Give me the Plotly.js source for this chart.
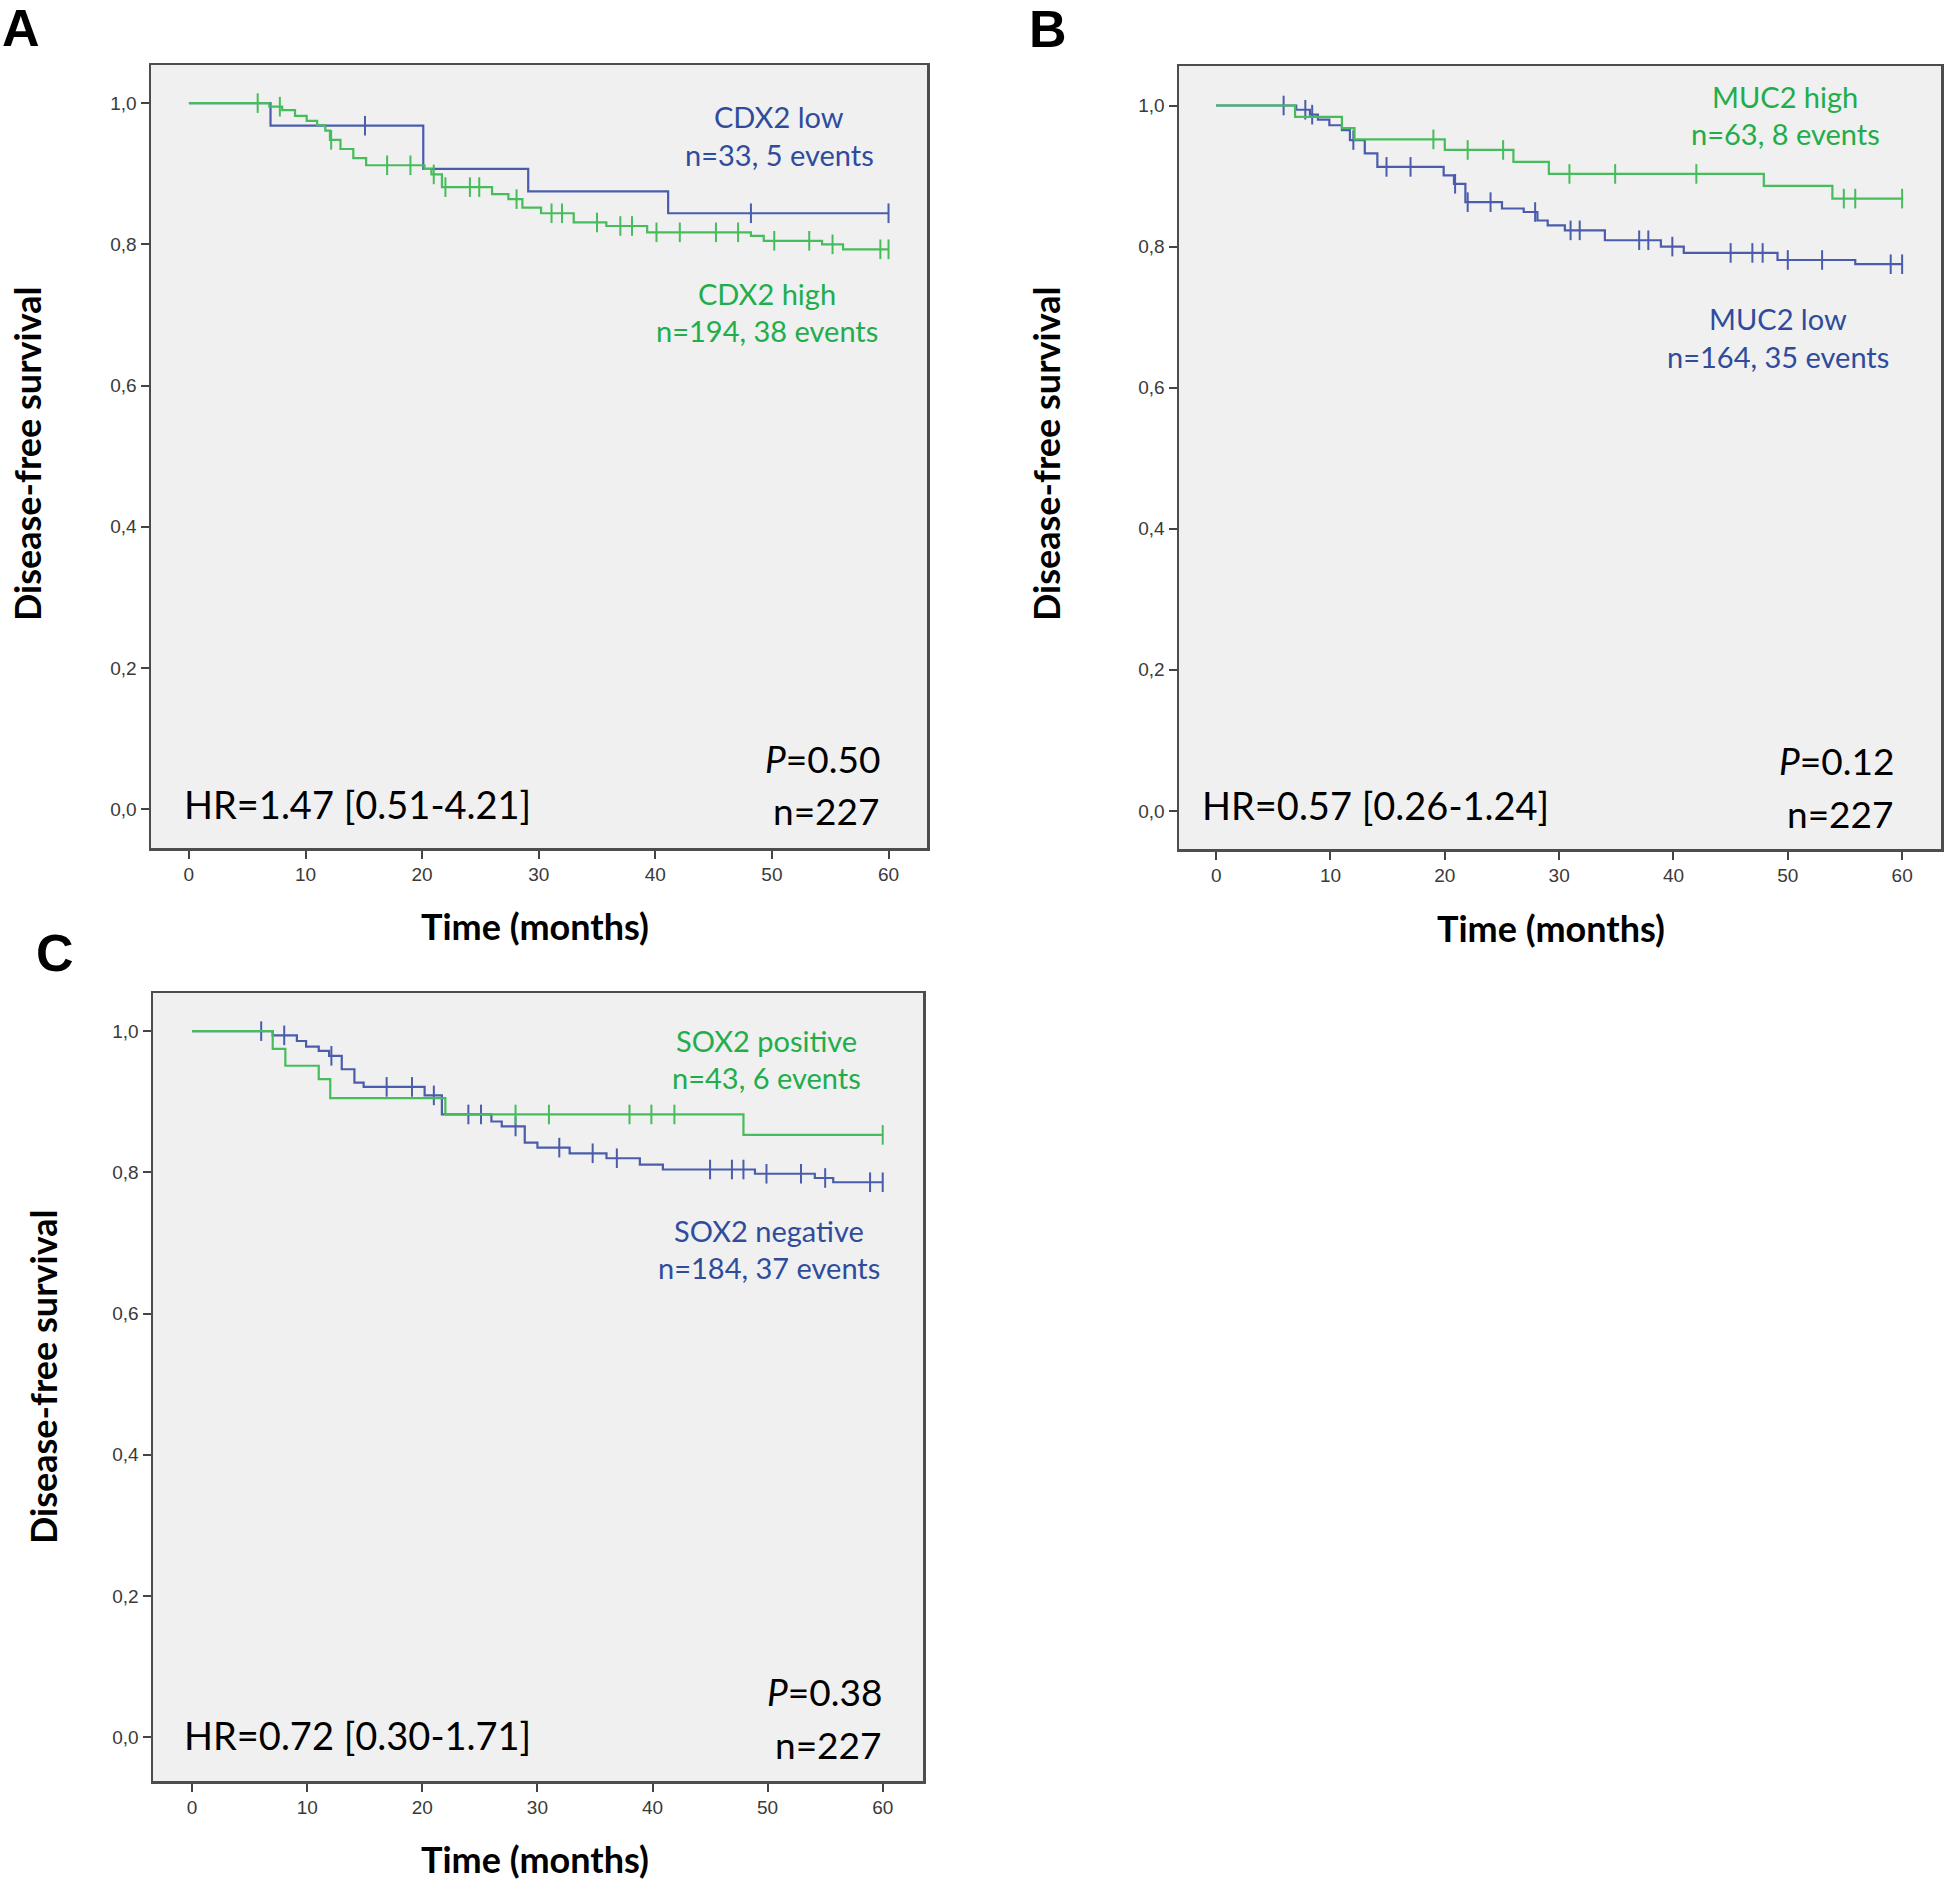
<!DOCTYPE html>
<html>
<head>
<meta charset="utf-8">
<script src="https://cdn.plot.ly/plotly-3.0.1.min.js"></script>
<style>
  body { margin: 0; background: #fff; }
  #chart { width: 1946px; height: 1881px; }
</style>
</head>
<body>
<div id="chart"></div>
<script>
// ---- data (months, survival) ----
const yTickVals = [0, 0.2, 0.4, 0.6, 0.8, 1.0];
const yTickText = ['0,0', '0,2', '0,4', '0,6', '0,8', '1,0'];
const xTickVals = [0, 10, 20, 30, 40, 50, 60];

// A: CDX2
const cdx2LowTime = [0, 7.0, 20.1, 29.1, 41.1, 60];
const cdx2LowSurv = [1.0, 0.968, 0.907, 0.875, 0.844, 0.844];
const cdx2LowCens = [15.1, 48.2, 60];

const cdx2HighTime = [0, 6.9, 8.0, 9.1, 10.1, 11.0, 11.7, 12.1, 13.0, 14.1, 15.2, 20.2, 20.8, 21.7, 26.0, 27.4, 28.6, 30.2, 33.0, 35.8, 39.3, 48.2, 49.3, 54.3, 56.1, 60];
const cdx2HighSurv = [1.0, 0.995, 0.990, 0.982, 0.975, 0.969, 0.961, 0.948, 0.935, 0.922, 0.912, 0.907, 0.899, 0.881, 0.871, 0.864, 0.852, 0.844, 0.831, 0.826, 0.817, 0.812, 0.805, 0.800, 0.793, 0.793];
const cdx2HighCens = [5.9, 7.8, 12.2, 17.0, 19.0, 21.0, 22.0, 24.1, 24.9, 28.1, 31.1, 32.0, 35.0, 37.0, 38.0, 40.1, 42.1, 45.2, 47.1, 50.2, 53.2, 55.2, 59.3, 60];

// B: MUC2
const muc2HighTime = [0, 6.9, 11.0, 12.1, 20.0, 26.0, 29.1, 47.9, 53.9, 60];
const muc2HighSurv = [1.0, 0.984, 0.968, 0.952, 0.937, 0.920, 0.903, 0.886, 0.868, 0.868];
const muc2HighCens = [19.0, 22.0, 25.1, 30.9, 34.9, 42.0, 54.9, 55.9, 60];

const muc2LowTime = [0, 7.0, 8.2, 8.9, 9.9, 11.0, 11.7, 13.0, 14.1, 19.9, 20.8, 21.8, 25.0, 26.9, 28.1, 29.0, 30.5, 34.0, 38.9, 40.9, 49.1, 55.9, 60];
const muc2LowSurv = [1.0, 0.994, 0.987, 0.980, 0.972, 0.965, 0.951, 0.932, 0.913, 0.901, 0.889, 0.863, 0.854, 0.849, 0.837, 0.830, 0.823, 0.809, 0.800, 0.791, 0.781, 0.775, 0.775];
const muc2LowCens = [5.9, 7.8, 8.4, 12.0, 14.9, 17.0, 20.9, 22.0, 24.0, 27.9, 31.0, 31.8, 37.0, 37.8, 39.9, 45.0, 46.9, 47.8, 50.0, 53.0, 59.0, 60];

// C: SOX2
const sox2PosTime = [0, 7.0, 8.1, 11.0, 12.0, 22.0, 47.9, 60];
const sox2PosSurv = [1.0, 0.975, 0.951, 0.932, 0.905, 0.882, 0.853, 0.853];
const sox2PosCens = [28.1, 31.0, 38.0, 39.9, 41.9, 60];

const sox2NegTime = [0, 7.0, 9.1, 9.9, 11.0, 11.9, 13.0, 14.1, 14.9, 20.2, 21.7, 26.0, 26.9, 28.9, 30.0, 32.8, 36.0, 38.9, 40.9, 48.9, 54.1, 55.7, 60];
const sox2NegSurv = [1.0, 0.994, 0.986, 0.978, 0.972, 0.965, 0.946, 0.927, 0.921, 0.909, 0.882, 0.872, 0.865, 0.842, 0.835, 0.827, 0.820, 0.811, 0.804, 0.798, 0.792, 0.786, 0.786];
const sox2NegCens = [6.0, 8.0, 12.1, 16.9, 19.1, 21.0, 24.0, 25.1, 28.1, 31.9, 34.8, 36.9, 45.0, 46.9, 47.9, 49.9, 52.9, 55.0, 58.9, 60];

// ---- styles ----
const BLUE_LINE = '#4a5cab';
const GREEN_LINE = '#45bd5a';
const BLUE_TEXT = '#2f4c9c';
const GREEN_TEXT = '#22ad4b';
const LABEL_FONT = 'Lato, "Open Sans", "Noto Sans", sans-serif';
const TICK_FONT = { family: 'Liberation Sans, Arial, sans-serif', size: 19, color: '#3a3a3a' };
const W = 1946, H = 1881;

// survival value at time t (step function)
function survAt(times, surv, t) {
    let s = surv[0];
    for (let i = 0; i < times.length; i++) {
        if (times[i] <= t) s = surv[i];
    }
    return s;
}

function kmTraces(times, surv, cens, color, axis) {
    const xa = 'x' + (axis === 1 ? '' : axis);
    const ya = 'y' + (axis === 1 ? '' : axis);
    const curve = {
        x: times, y: surv, xaxis: xa, yaxis: ya,
        type: 'scatter', mode: 'lines',
        line: { color: color, width: 2.2, shape: 'hv' },
        hoverinfo: 'skip'
    };
    // censored cases as short vertical ticks
    const marks = {
        x: cens, y: cens.map(t => survAt(times, surv, t)), xaxis: xa, yaxis: ya,
        type: 'scatter', mode: 'markers',
        marker: { symbol: 'line-ns-open', size: 14, color: color, line: { color: color, width: 2 } },
        hoverinfo: 'skip'
    };
    return [curve, marks];
}

const traces = [
    ...kmTraces(cdx2LowTime, cdx2LowSurv, cdx2LowCens, BLUE_LINE, 1),
    ...kmTraces(cdx2HighTime, cdx2HighSurv, cdx2HighCens, GREEN_LINE, 1),
    ...kmTraces(muc2LowTime, muc2LowSurv, muc2LowCens, BLUE_LINE, 2),
    ...kmTraces(muc2HighTime, muc2HighSurv, muc2HighCens, GREEN_LINE, 2),
    ...kmTraces(sox2NegTime, sox2NegSurv, sox2NegCens, BLUE_LINE, 3),
    ...kmTraces(sox2PosTime, sox2PosSurv, sox2PosCens, GREEN_LINE, 3)
];

// panel boxes in page pixels: [left, top, right, bottom]
const boxA = [151, 65, 927, 848];
const boxB = [1179, 66, 1941, 849];
const boxC = [153, 993, 923, 1781];

function xAxis(box, anchor, range) {
    return {
        domain: [box[0] / W, box[2] / W],
        anchor: anchor,
        range: range,
        tickvals: xTickVals,
        ticks: 'outside', ticklen: 8, tickwidth: 2, tickcolor: '#444',
        tickfont: TICK_FONT,
        showgrid: false, zeroline: false,
        showline: true, mirror: true, linecolor: '#4d4d4d', linewidth: 2.5,
        fixedrange: true
    };
}

function yAxis(box, anchor, range) {
    return {
        domain: [1 - box[3] / H, 1 - box[1] / H],
        anchor: anchor,
        range: range,
        tickvals: yTickVals,
        ticktext: yTickText,
        ticks: 'outside', ticklen: 8, tickwidth: 2, tickcolor: '#444',
        tickfont: TICK_FONT,
        showgrid: false, zeroline: false,
        showline: true, mirror: true, linecolor: '#4d4d4d', linewidth: 2.5,
        fixedrange: true
    };
}

// text helper, page pixel positions
function txt(text, x, y, opts) {
    const o = opts || {};
    return {
        text: text, xref: 'paper', yref: 'paper',
        x: x / W, y: 1 - y / H,
        xanchor: o.xanchor || 'center', yanchor: o.yanchor || 'middle',
        showarrow: false, textangle: o.angle || 0,
        font: { family: o.family || LABEL_FONT, size: o.size || 29, color: o.color || '#000' }
    };
}

const BOLD = 'Lato, "Open Sans", sans-serif';
const LETTER = 'Liberation Sans, Arial, sans-serif';
const annotations = [
    // panel letters
    txt('<b>A</b>', 21, 28, { size: 52, family: LETTER }),
    txt('<b>B</b>', 1048, 29, { size: 52, family: LETTER }),
    txt('<b>C</b>', 55, 953, { size: 52, family: LETTER }),

    // axis titles
    txt('<b>Disease-free survival</b>', 27, 454, { angle: -90, size: 36, family: BOLD }),
    txt('<b>Disease-free survival</b>', 1046, 454, { angle: -90, size: 36, family: BOLD }),
    txt('<b>Disease-free survival</b>', 43, 1377, { angle: -90, size: 36, family: BOLD }),
    txt('<b>Time (months)</b>', 535, 926, { size: 36, family: BOLD }),
    txt('<b>Time (months)</b>', 1551, 928, { size: 36, family: BOLD }),
    txt('<b>Time (months)</b>', 535, 1859, { size: 36, family: BOLD }),

    // A labels
    txt('CDX2 low', 779, 117, { color: BLUE_TEXT }),
    txt('n=33, 5 events', 779, 154, { color: BLUE_TEXT }),
    txt('CDX2 high', 767, 293, { color: GREEN_TEXT }),
    txt('n=194, 38 events', 767, 330, { color: GREEN_TEXT }),
    txt('<i>P</i>=0.50', 882, 758, { xanchor: 'right', size: 37 }),
    txt('n=227', 882, 810, { xanchor: 'right', size: 37 }),
    txt('HR=1.47 [0.51-4.21]', 182, 804, { xanchor: 'left', size: 38 }),

    // B labels
    txt('MUC2 high', 1785, 96, { color: GREEN_TEXT }),
    txt('n=63, 8 events', 1785, 133, { color: GREEN_TEXT }),
    txt('MUC2 low', 1778, 319, { color: BLUE_TEXT }),
    txt('n=164, 35 events', 1778, 356, { color: BLUE_TEXT }),
    txt('<i>P</i>=0.12', 1896, 761, { xanchor: 'right', size: 37 }),
    txt('n=227', 1896, 813, { xanchor: 'right', size: 37 }),
    txt('HR=0.57 [0.26-1.24]', 1200, 805, { xanchor: 'left', size: 38 }),

    // C labels
    txt('SOX2 positive', 766, 1040, { color: GREEN_TEXT }),
    txt('n=43, 6 events', 766, 1077, { color: GREEN_TEXT }),
    txt('SOX2 negative', 769, 1230, { color: BLUE_TEXT }),
    txt('n=184, 37 events', 769, 1267, { color: BLUE_TEXT }),
    txt('<i>P</i>=0.38', 884, 1691, { xanchor: 'right', size: 37 }),
    txt('n=227', 884, 1744, { xanchor: 'right', size: 37 }),
    txt('HR=0.72 [0.30-1.71]', 182, 1735, { xanchor: 'left', size: 38 })
];

const layout = {
    width: W, height: H,
    margin: { l: 0, r: 0, t: 0, b: 0 },
    paper_bgcolor: '#ffffff',
    plot_bgcolor: '#f0f0f0',
    showlegend: false,
    xaxis: xAxis(boxA, 'y', [-3.25, 63.3]),
    yaxis: yAxis(boxA, 'x', [-0.055, 1.054]),
    xaxis2: xAxis(boxB, 'y2', [-3.25, 63.4]),
    yaxis2: yAxis(boxB, 'x2', [-0.054, 1.056]),
    xaxis3: xAxis(boxC, 'y3', [-3.4, 63.5]),
    yaxis3: yAxis(boxC, 'x3', [-0.062, 1.054]),
    annotations: annotations
};

Plotly.newPlot('chart', traces, layout, { staticPlot: true, displayModeBar: false });
</script>
</body>
</html>
